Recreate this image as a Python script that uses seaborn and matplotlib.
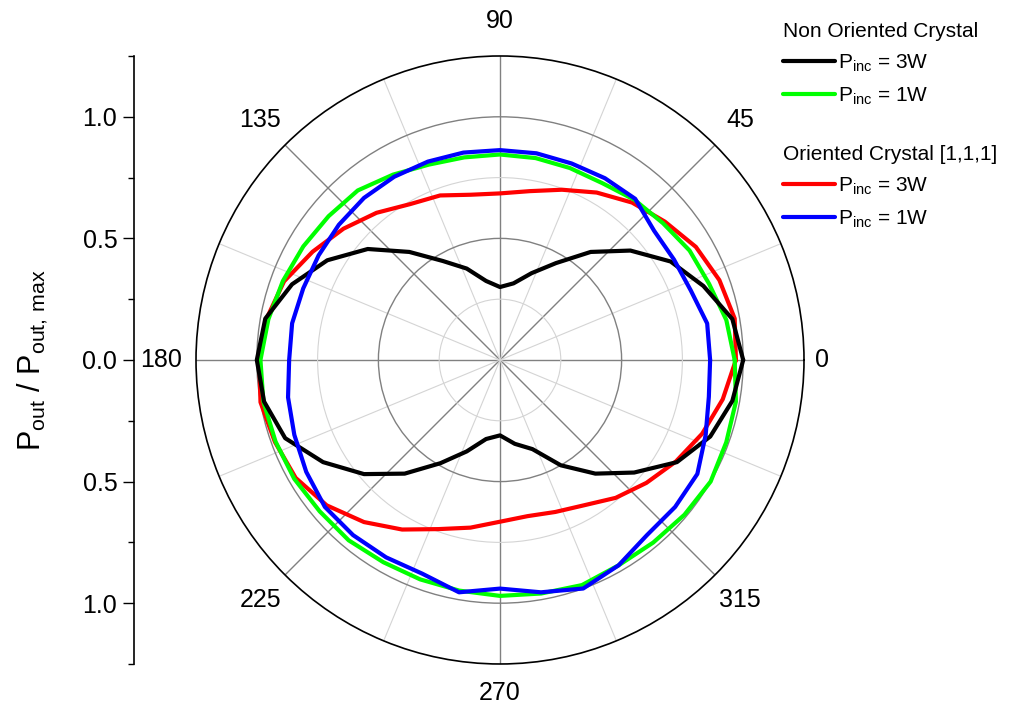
import numpy as np
import pandas as pd
import matplotlib
matplotlib.use("Agg")
import matplotlib.pyplot as plt
import seaborn as sns

# ====== Polar plot of normalised output power vs polarisation angle ======

# measurement angles (deg), one point every 10 deg
angles = np.arange(0, 360, 10)

# normalised output power (0..350 deg)
non_oriented_3w = [1.00, 0.97, 0.89, 0.81, 0.70, 0.58, 0.46, 0.38, 0.32, 0.30,
                   0.33, 0.40, 0.47, 0.58, 0.71, 0.82, 0.91, 0.98, 1.00,
                   0.985, 0.94, 0.84, 0.73, 0.61, 0.49, 0.40, 0.33, 0.31,
                   0.35, 0.39, 0.50, 0.61, 0.72, 0.84, 0.92, 0.97]
non_oriented_1w = [0.965, 0.945, 0.915, 0.90, 0.875, 0.86, 0.84, 0.84, 0.843, 0.845,
                   0.846, 0.855, 0.88, 0.91, 0.92, 0.934, 0.95, 0.967, 0.985,
                   0.988, 0.982, 0.977, 0.968, 0.968, 0.96, 0.96, 0.963, 0.97,
                   0.975, 0.985, 0.975, 0.98, 0.99, 1.00, 0.99, 0.985]
oriented_3w = [0.97, 0.98, 0.96, 0.93, 0.885, 0.845, 0.795, 0.745, 0.705, 0.685,
               0.69, 0.72, 0.74, 0.79, 0.84, 0.89, 0.945, 0.975, 0.99,
               1.00, 0.985, 0.97, 0.93, 0.87, 0.805, 0.74, 0.70, 0.665,
               0.652, 0.665, 0.69, 0.74, 0.786, 0.835, 0.885, 0.93]
oriented_1w = [0.864, 0.865, 0.835, 0.826, 0.827, 0.865, 0.863, 0.86, 0.863, 0.863,
               0.866, 0.868, 0.87, 0.87, 0.865, 0.861, 0.861, 0.868, 0.867,
               0.885, 0.90, 0.92, 0.94, 0.94, 0.937, 0.935, 0.97, 0.94,
               0.97, 1.00, 0.975, 0.94, 0.94, 0.937, 0.90, 0.872]

series_names = ["non3", "non1", "ori3", "ori1"]
series_vals = [non_oriented_3w, non_oriented_1w, oriented_3w, oriented_1w]
colors = {"non3": "#000000", "non1": "#00ff00", "ori3": "#ff0000", "ori1": "#0000ff"}
legend_labels = [r"$\mathrm{P_{inc}}$ = 3W", r"$\mathrm{P_{inc}}$ = 1W"]

theta_labels = [0, 45, 90, 135, 180, 225, 270, 315]
left_ticks = [-1.0, -0.5, 0.0, 0.5, 1.0]

# long table, each curve closed back to its first point
rows = []
for name, vals in zip(series_names, series_vals):
    th = np.deg2rad(np.append(angles, 360))
    rr = np.append(vals, vals[0])
    for t, r in zip(th, rr):
        rows.append({"theta": t, "r": r, "series": name})
df = pd.DataFrame(rows)

sns.set_style("ticks")
plt.rcParams["font.family"] = ["Liberation Sans", "DejaVu Sans"]
plt.rcParams["mathtext.fontset"] = "custom"
plt.rcParams["mathtext.rm"] = "Liberation Sans"
plt.rcParams["mathtext.it"] = "Liberation Sans:italic"
plt.rcParams["text.color"] = "black"
plt.rcParams["xtick.color"] = "black"
plt.rcParams["ytick.color"] = "black"
plt.rcParams["axes.labelcolor"] = "black"

fig = plt.figure(figsize=(10.14, 7.06), dpi=100)
ax = fig.add_axes([0.1933, 0.0595, 0.5996, 0.8612], projection="polar")

# draw order: red, green, black, blue
order = ["ori3", "non1", "non3", "ori1"]
for name in order:
    sns.lineplot(data=df[df["series"] == name], x="theta", y="r", color=colors[name],
                 sort=False, estimator=None, lw=3, ax=ax, legend=False)
ax.set_xlabel("")
ax.set_ylabel("")
ax.set_ylim(0, 1.25)

# grid: 45 deg major, 22.5 deg minor; 0.5 major rings, 0.25 minor rings
ax.set_xticks(np.deg2rad(np.arange(0, 360, 45)))
ax.set_xticks(np.deg2rad(np.arange(22.5, 360, 45)), minor=True)
ax.set_xticklabels([])
ax.set_yticks([0.5, 1.0])
ax.set_yticks([0.25, 0.75], minor=True)
ax.set_yticklabels([])
ax.grid(which="major", color="#808080", lw=1.0)
ax.grid(which="minor", color="#d4d4d4", lw=0.8)
ax.tick_params(axis="x", which="major", direction="in", length=10, width=1, color="black")
ax.tick_params(axis="x", which="minor", direction="in", length=5, width=1, color="black")
ax.tick_params(axis="y", which="both", length=0)
ax.spines["polar"].set_color("black")
ax.spines["polar"].set_linewidth(1.2)

label_r = {0: 1.325, 270: 1.37}
for a in theta_labels:
    ax.text(np.deg2rad(a), label_r.get(a, 1.395), str(a), ha="center", va="center",
            fontsize=18, color="black")

# left linear scale
ax2 = fig.add_axes([134 / 1014, 0.0595, 0.001, 0.8612])
ax2.set_ylim(-1.25, 1.25)
ax2.set_yticks(left_ticks)
ax2.set_yticklabels([f"{abs(v):.1f}" for v in left_ticks], fontsize=18)
ax2.set_yticks(np.arange(-1.25, 1.3, 0.5), minor=True)
ax2.set_xticks([])
ax2.tick_params(axis="y", which="major", direction="out", length=8, width=1, pad=4,
                color="black", labelcolor="black")
ax2.tick_params(axis="y", which="minor", direction="out", length=4, width=1, color="black")
for s in ["top", "right", "bottom"]:
    ax2.spines[s].set_visible(False)
ax2.spines["left"].set_color("black")
ax2.spines["left"].set_linewidth(1.2)
ax2.patch.set_alpha(0)

fig.text(33 / 1014, 0.49, r"$\mathrm{P_{out}\ /\ P_{out,\,max}}$", rotation=90,
         ha="center", va="center", fontsize=22, color="black")

# legends
line_of = {name: ln for name, ln in zip(order, ax.get_lines())}
common = dict(frameon=False, fontsize=15, title_fontsize=15, alignment="left",
              handlelength=2.5, handletextpad=0.15, borderpad=0, borderaxespad=0,
              labelspacing=0.55, loc="upper left")
leg1 = fig.legend([line_of["non3"], line_of["non1"]], legend_labels,
                  title="Non Oriented Crystal", bbox_to_anchor=(783 / 1014, 1 - 22 / 706), **common)
leg2 = fig.legend([line_of["ori3"], line_of["ori1"]], legend_labels,
                  title="Oriented Crystal [1,1,1]", bbox_to_anchor=(783 / 1014, 1 - 145 / 706), **common)
for leg in (leg1, leg2):
    leg.get_title().set_color("black")
    for t in leg.get_texts():
        t.set_color("black")

plt.savefig("out.png", dpi=100)
